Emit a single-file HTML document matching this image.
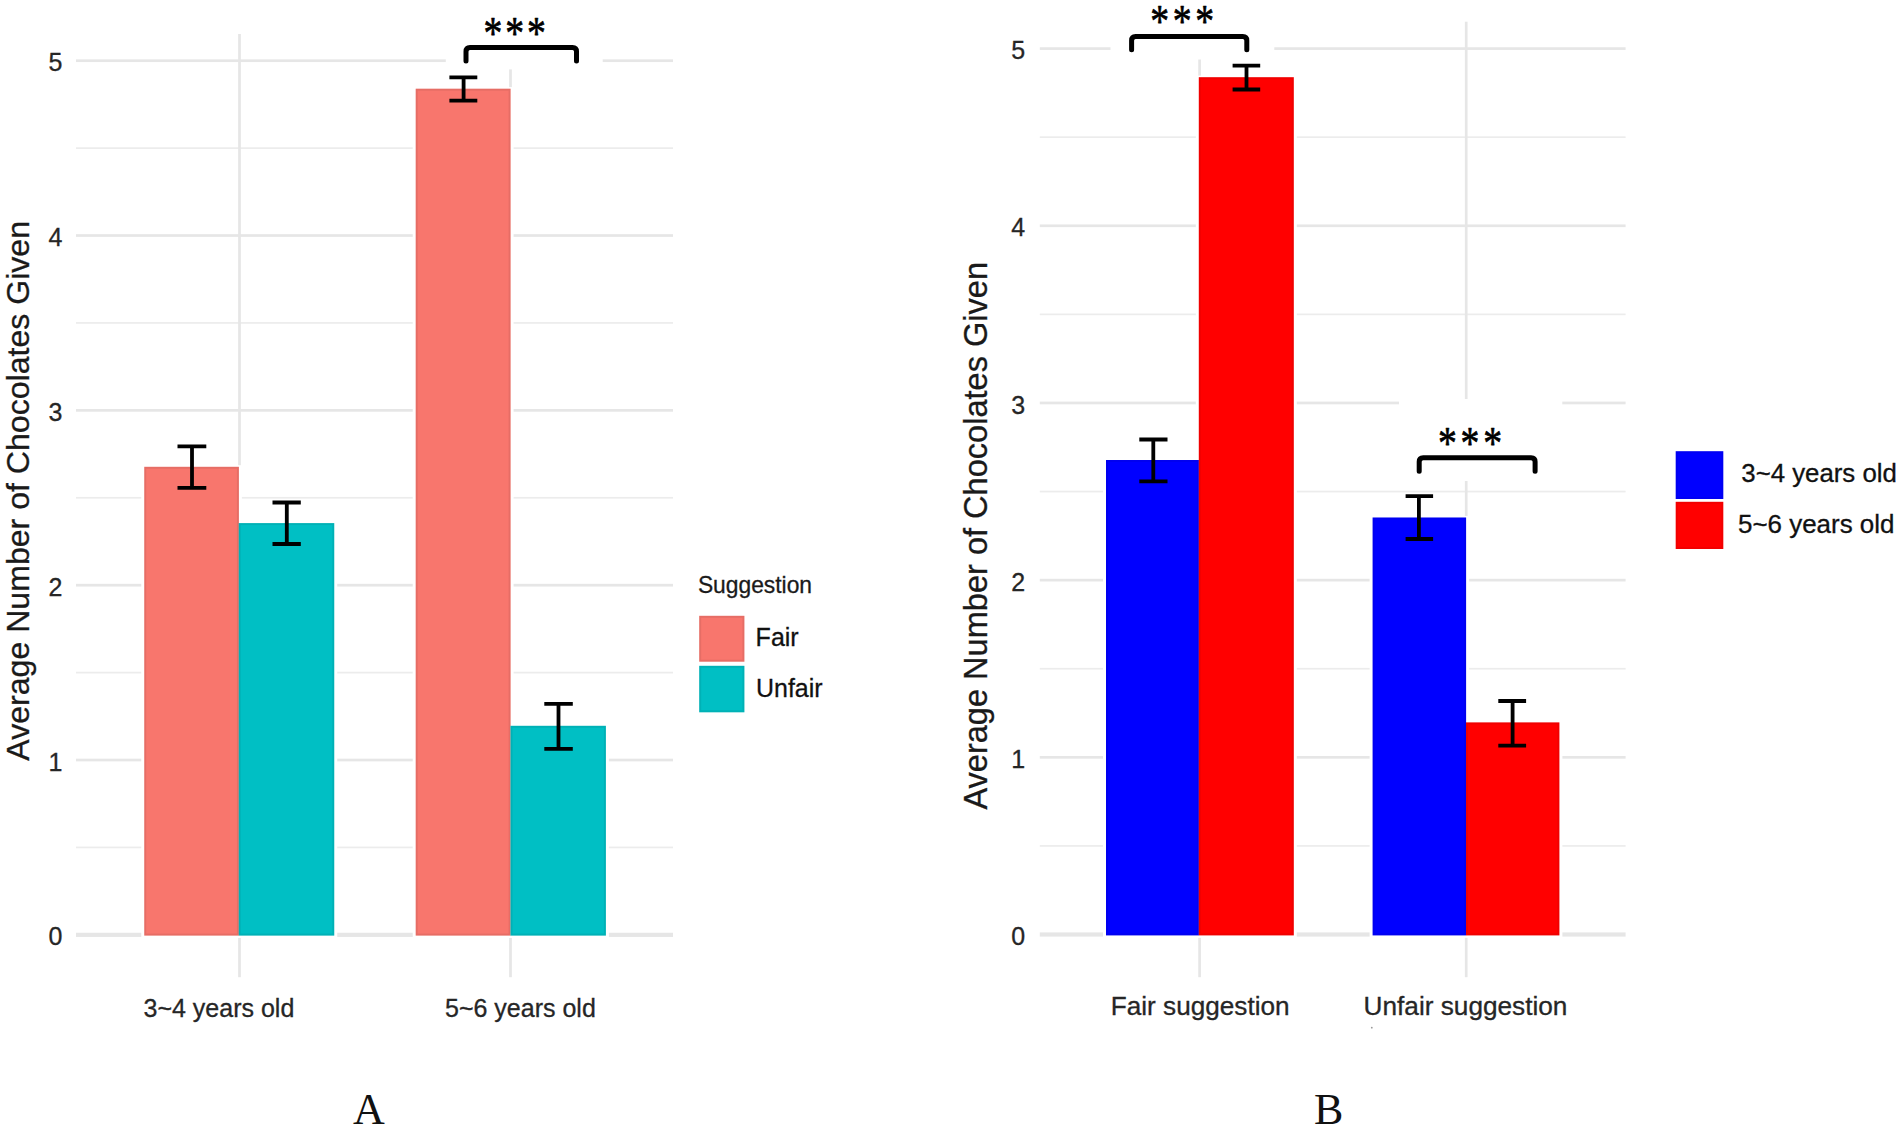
<!DOCTYPE html>
<html lang="en">
<head>
<meta charset="utf-8">
<title>Average Number of Chocolates Given</title>
<style>
html,body{margin:0;padding:0;background:#fff;}
body{width:1902px;height:1130px;overflow:hidden;}
svg{display:block;}
</style>
</head>
<body>
<svg width="1902" height="1130" viewBox="0 0 1902 1130">
<rect x="0" y="0" width="1902" height="1130" fill="#fff"/>
<g id="chartA">
<rect x="76" y="932.75" width="597" height="4.2" fill="#e6e6e6"/>
<rect x="76" y="758.67" width="597" height="2.7" fill="#e6e6e6"/>
<rect x="76" y="583.84" width="597" height="2.7" fill="#e6e6e6"/>
<rect x="76" y="409.01" width="597" height="2.7" fill="#e6e6e6"/>
<rect x="76" y="234.18" width="597" height="2.7" fill="#e6e6e6"/>
<rect x="76" y="59.35" width="597" height="2.7" fill="#e6e6e6"/>
<rect x="76" y="846.59" width="597" height="1.7" fill="#ececec"/>
<rect x="76" y="671.75" width="597" height="1.7" fill="#ececec"/>
<rect x="76" y="496.92" width="597" height="1.7" fill="#ececec"/>
<rect x="76" y="322.09" width="597" height="1.7" fill="#ececec"/>
<rect x="76" y="147.27" width="597" height="1.7" fill="#ececec"/>
<rect x="238.15" y="34" width="2.7" height="943.2" fill="#e6e6e6"/>
<rect x="509.15" y="34" width="2.7" height="943.2" fill="#e6e6e6"/>
<rect x="445.8" y="0" width="156.9" height="69.4" fill="#fff"/>
<rect x="141.25" y="465.2" width="100.65" height="472.6" fill="#fff"/>
<rect x="235.75" y="521.5" width="101.5" height="416.3" fill="#fff"/>
<rect x="412.7" y="87.1" width="100.9" height="850.7" fill="#fff"/>
<rect x="507.5" y="724.2" width="101.4" height="213.6" fill="#fff"/>
<rect x="144.25" y="466.8" width="94.65" height="468.8" fill="#F8766D"/>
<rect x="145.25" y="467.8" width="92.65" height="466.8" fill="none" stroke="#000" stroke-opacity="0.07" stroke-width="2.0"/>
<rect x="238.75" y="523.1" width="95.5" height="412.5" fill="#00BFC4"/>
<rect x="239.75" y="524.1" width="93.5" height="410.5" fill="none" stroke="#000" stroke-opacity="0.07" stroke-width="2.0"/>
<rect x="415.7" y="88.7" width="94.9" height="846.9" fill="#F8766D"/>
<rect x="416.7" y="89.7" width="92.9" height="844.9" fill="none" stroke="#000" stroke-opacity="0.07" stroke-width="2.0"/>
<rect x="510.5" y="725.8" width="95.4" height="209.8" fill="#00BFC4"/>
<rect x="511.5" y="726.8" width="93.4" height="207.8" fill="none" stroke="#000" stroke-opacity="0.07" stroke-width="2.0"/>
<path d="M177.5 446.3H206.3M192 446.3V487.8M177.5 487.8H206.3" fill="none" stroke="#000" stroke-width="3.8"/>
<path d="M272.5 502.5H300.8M286.8 502.5V544M272.5 544H300.8" fill="none" stroke="#000" stroke-width="3.8"/>
<path d="M449.4 77.4H477.3M463.6 77.4V100.6M449.4 100.6H477.3" fill="none" stroke="#000" stroke-width="3.8"/>
<path d="M544.3 703.8H572.8M558.5 703.8V748.8M544.3 748.8H572.8" fill="none" stroke="#000" stroke-width="3.8"/>
<path d="M466 61V51.5Q466 47.5 470 47.5H572.5Q576.5 47.5 576.5 51.5V61" fill="none" stroke="#000" stroke-width="5.0" stroke-linecap="round" stroke-linejoin="round"/>
<text transform="translate(516.1 48.5) scale(0.823 1)" text-anchor="middle" font-family="'Liberation Serif', 'Times New Roman', Times, serif" font-size="45.8" letter-spacing="3.5" fill="#000" stroke="#000" stroke-width="0.7" stroke-linejoin="round">***</text>
<text x="55.4" y="945.45" text-anchor="middle" font-family="'Liberation Sans', Arial, Helvetica, sans-serif" font-size="25" fill="#262626" stroke="#262626" stroke-width="0.3">0</text>
<text x="55.4" y="770.62" text-anchor="middle" font-family="'Liberation Sans', Arial, Helvetica, sans-serif" font-size="25" fill="#262626" stroke="#262626" stroke-width="0.3">1</text>
<text x="55.4" y="595.79" text-anchor="middle" font-family="'Liberation Sans', Arial, Helvetica, sans-serif" font-size="25" fill="#262626" stroke="#262626" stroke-width="0.3">2</text>
<text x="55.4" y="420.96" text-anchor="middle" font-family="'Liberation Sans', Arial, Helvetica, sans-serif" font-size="25" fill="#262626" stroke="#262626" stroke-width="0.3">3</text>
<text x="55.4" y="246.13" text-anchor="middle" font-family="'Liberation Sans', Arial, Helvetica, sans-serif" font-size="25" fill="#262626" stroke="#262626" stroke-width="0.3">4</text>
<text x="55.4" y="71.3" text-anchor="middle" font-family="'Liberation Sans', Arial, Helvetica, sans-serif" font-size="25" fill="#262626" stroke="#262626" stroke-width="0.3">5</text>
<text x="143.5" y="1016.6" text-anchor="start" font-family="'Liberation Sans', Arial, Helvetica, sans-serif" font-size="25.0" fill="#262626" stroke="#262626" stroke-width="0.3">3~4 years old</text>
<text x="445" y="1016.5" text-anchor="start" font-family="'Liberation Sans', Arial, Helvetica, sans-serif" font-size="25.0" fill="#262626" stroke="#262626" stroke-width="0.3">5~6 years old</text>
<text transform="translate(28.7 490.8) rotate(-90) scale(1.003 1)" text-anchor="middle" font-family="'Liberation Sans', Arial, Helvetica, sans-serif" font-size="32" fill="#1a1a1a" stroke="#1a1a1a" stroke-width="0.3">Average Number of Chocolates Given</text>
<text transform="translate(697.9 592.8) scale(0.98 1)" text-anchor="start" font-family="'Liberation Sans', Arial, Helvetica, sans-serif" font-size="23.3" fill="#1a1a1a" stroke="#1a1a1a" stroke-width="0.3">Suggestion</text>
<rect x="699.2" y="615.8" width="45.2" height="45.9" fill="#F8766D"/>
<rect x="700.2" y="616.8" width="43.2" height="43.9" fill="none" stroke="#000" stroke-opacity="0.07" stroke-width="2.0"/>
<rect x="699.2" y="665.8" width="45.2" height="46.5" fill="#00BFC4"/>
<rect x="700.2" y="666.8" width="43.2" height="44.5" fill="none" stroke="#000" stroke-opacity="0.07" stroke-width="2.0"/>
<text transform="translate(755.6 646.3) scale(0.985 1)" text-anchor="start" font-family="'Liberation Sans', Arial, Helvetica, sans-serif" font-size="25.4" fill="#111" stroke="#111" stroke-width="0.3">Fair</text>
<text transform="translate(756 696.8) scale(0.983 1)" text-anchor="start" font-family="'Liberation Sans', Arial, Helvetica, sans-serif" font-size="25.4" fill="#111" stroke="#111" stroke-width="0.3">Unfair</text>
<text x="353" y="1123.7" text-anchor="start" font-family="'Liberation Serif', 'Times New Roman', Times, serif" font-size="44" fill="#111">A</text>
</g>
<g id="chartB">
<rect x="1039.8" y="932.4" width="585.8" height="4.2" fill="#e6e6e6"/>
<rect x="1039.8" y="755.97" width="585.8" height="2.7" fill="#e6e6e6"/>
<rect x="1039.8" y="578.79" width="585.8" height="2.7" fill="#e6e6e6"/>
<rect x="1039.8" y="401.61" width="585.8" height="2.7" fill="#e6e6e6"/>
<rect x="1039.8" y="224.43" width="585.8" height="2.7" fill="#e6e6e6"/>
<rect x="1039.8" y="47.25" width="585.8" height="2.7" fill="#e6e6e6"/>
<rect x="1039.8" y="845.06" width="585.8" height="1.7" fill="#ececec"/>
<rect x="1039.8" y="667.88" width="585.8" height="1.7" fill="#ececec"/>
<rect x="1039.8" y="490.7" width="585.8" height="1.7" fill="#ececec"/>
<rect x="1039.8" y="313.52" width="585.8" height="1.7" fill="#ececec"/>
<rect x="1039.8" y="136.34" width="585.8" height="1.7" fill="#ececec"/>
<rect x="1198.25" y="21.7" width="2.7" height="955.5" fill="#e6e6e6"/>
<rect x="1464.85" y="21.7" width="2.7" height="955.5" fill="#e6e6e6"/>
<rect x="1110.5" y="0" width="163.8" height="59.5" fill="#fff"/>
<rect x="1399" y="399" width="163.3" height="82" fill="#fff"/>
<rect x="1103" y="458.4" width="98.9" height="479.2" fill="#fff"/>
<rect x="1195.8" y="75.6" width="101" height="862" fill="#fff"/>
<rect x="1369.6" y="515.9" width="99.5" height="421.7" fill="#fff"/>
<rect x="1463" y="720.8" width="99.4" height="216.8" fill="#fff"/>
<rect x="1106" y="460" width="92.9" height="475.4" fill="#0000FF"/>
<rect x="1107" y="461" width="90.9" height="473.4" fill="none" stroke="#000" stroke-opacity="0.06" stroke-width="2.0"/>
<rect x="1198.8" y="77.2" width="95" height="858.2" fill="#FF0000"/>
<rect x="1199.8" y="78.2" width="93" height="856.2" fill="none" stroke="#000" stroke-opacity="0.06" stroke-width="2.0"/>
<rect x="1372.6" y="517.5" width="93.5" height="417.9" fill="#0000FF"/>
<rect x="1373.6" y="518.5" width="91.5" height="415.9" fill="none" stroke="#000" stroke-opacity="0.06" stroke-width="2.0"/>
<rect x="1466" y="722.4" width="93.4" height="213" fill="#FF0000"/>
<rect x="1467" y="723.4" width="91.4" height="211" fill="none" stroke="#000" stroke-opacity="0.06" stroke-width="2.0"/>
<path d="M1139.3 439.5H1167.5M1153.3 439.5V481.3M1139.3 481.3H1167.5" fill="none" stroke="#000" stroke-width="3.8"/>
<path d="M1232.6 65.6H1260.2M1246.5 65.6V89.5M1232.6 89.5H1260.2" fill="none" stroke="#000" stroke-width="3.8"/>
<path d="M1405.6 496.2H1433.1M1418.9 496.2V539M1405.6 539H1433.1" fill="none" stroke="#000" stroke-width="3.8"/>
<path d="M1498.3 701H1526.1M1512.6 701V745.6M1498.3 745.6H1526.1" fill="none" stroke="#000" stroke-width="3.8"/>
<path d="M1131.6 49.8V40.5Q1131.6 36.5 1135.6 36.5H1242.8Q1246.8 36.5 1246.8 40.5V49.8" fill="none" stroke="#000" stroke-width="5.0" stroke-linecap="round" stroke-linejoin="round"/>
<text transform="translate(1184.1 36.8) scale(0.823 1)" text-anchor="middle" font-family="'Liberation Serif', 'Times New Roman', Times, serif" font-size="45.8" letter-spacing="4.5" fill="#000" stroke="#000" stroke-width="0.7" stroke-linejoin="round">***</text>
<path d="M1419.2 471.2V461.8Q1419.2 457.8 1423.2 457.8H1531.1Q1535.1 457.8 1535.1 461.8V471.2" fill="none" stroke="#000" stroke-width="5.0" stroke-linecap="round" stroke-linejoin="round"/>
<text transform="translate(1471.9 459) scale(0.823 1)" text-anchor="middle" font-family="'Liberation Serif', 'Times New Roman', Times, serif" font-size="45.8" letter-spacing="4.5" fill="#000" stroke="#000" stroke-width="0.7" stroke-linejoin="round">***</text>
<text x="1018.3" y="945.1" text-anchor="middle" font-family="'Liberation Sans', Arial, Helvetica, sans-serif" font-size="25" fill="#262626" stroke="#262626" stroke-width="0.3">0</text>
<text x="1018.3" y="767.92" text-anchor="middle" font-family="'Liberation Sans', Arial, Helvetica, sans-serif" font-size="25" fill="#262626" stroke="#262626" stroke-width="0.3">1</text>
<text x="1018.3" y="590.74" text-anchor="middle" font-family="'Liberation Sans', Arial, Helvetica, sans-serif" font-size="25" fill="#262626" stroke="#262626" stroke-width="0.3">2</text>
<text x="1018.3" y="413.56" text-anchor="middle" font-family="'Liberation Sans', Arial, Helvetica, sans-serif" font-size="25" fill="#262626" stroke="#262626" stroke-width="0.3">3</text>
<text x="1018.3" y="236.38" text-anchor="middle" font-family="'Liberation Sans', Arial, Helvetica, sans-serif" font-size="25" fill="#262626" stroke="#262626" stroke-width="0.3">4</text>
<text x="1018.3" y="59.2" text-anchor="middle" font-family="'Liberation Sans', Arial, Helvetica, sans-serif" font-size="25" fill="#262626" stroke="#262626" stroke-width="0.3">5</text>
<text transform="translate(1110.8 1014.6) scale(1.046 1)" text-anchor="start" font-family="'Liberation Sans', Arial, Helvetica, sans-serif" font-size="25" fill="#262626" stroke="#262626" stroke-width="0.3">Fair suggestion</text>
<text transform="translate(1363.6 1014.6) scale(1.048 1)" text-anchor="start" font-family="'Liberation Sans', Arial, Helvetica, sans-serif" font-size="25" fill="#262626" stroke="#262626" stroke-width="0.3">Unfair suggestion</text>
<text transform="translate(987.3 535.8) rotate(-90) scale(1 1)" text-anchor="middle" font-family="'Liberation Sans', Arial, Helvetica, sans-serif" font-size="32.55" fill="#1a1a1a" stroke="#1a1a1a" stroke-width="0.3">Average Number of Chocolates Given</text>
<rect x="1675.7" y="451.2" width="47.6" height="47.8" fill="#0000FF"/>
<rect x="1676.7" y="452.2" width="45.6" height="45.8" fill="none" stroke="#000" stroke-opacity="0.05" stroke-width="2.0"/>
<rect x="1675.7" y="501.8" width="47.6" height="47.2" fill="#FF0000"/>
<rect x="1676.7" y="502.8" width="45.6" height="45.2" fill="none" stroke="#000" stroke-opacity="0.05" stroke-width="2.0"/>
<text transform="translate(1741.3 481.7) scale(1.028 1)" text-anchor="start" font-family="'Liberation Sans', Arial, Helvetica, sans-serif" font-size="25.1" fill="#111" stroke="#111" stroke-width="0.3">3~4 years old</text>
<text transform="translate(1738 532.6) scale(1.034 1)" text-anchor="start" font-family="'Liberation Sans', Arial, Helvetica, sans-serif" font-size="25.1" fill="#111" stroke="#111" stroke-width="0.3">5~6 years old</text>
<text x="1314" y="1123.7" text-anchor="start" font-family="'Liberation Serif', 'Times New Roman', Times, serif" font-size="44" fill="#111">B</text>
<circle cx="1371.8" cy="1027.7" r="0.9" fill="#999"/>
</g>
</svg>
</body>
</html>
